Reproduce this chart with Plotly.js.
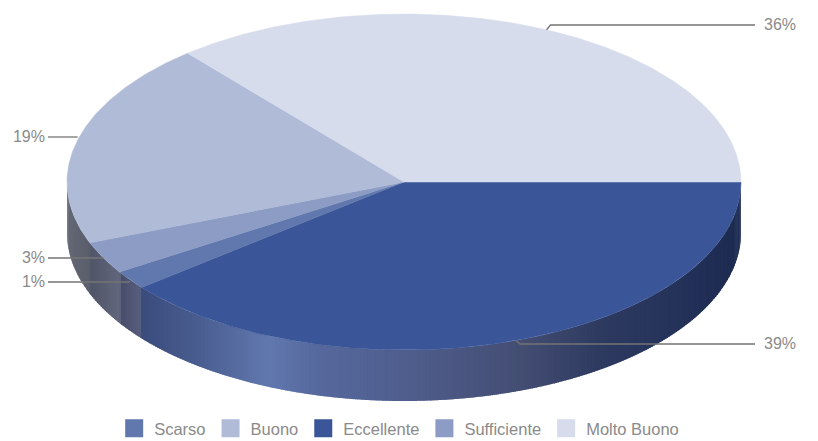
<!DOCTYPE html>
<html><head><meta charset="utf-8">
<script src="https://cdn.plot.ly/plotly-3.0.1.min.js"></script>
<style>html,body{margin:0;padding:0;background:#fff;overflow:hidden}#w{width:818px;height:441px;overflow:hidden}</style>
</head><body><div id="w"><div id="c"></div></div>
<script>
// Data, clockwise from the right-hand rim of the pie
const categories = ["Eccellente","Scarso","Sufficiente","Buono","Molto Buono"];
const shares = [39.2,1.8,3.1,19.8,36.1];
const labels = ["39%","1%","3%","19%","36%"];
const topColors = ["#3a5698","#6078ad","#8c9cc5","#afbbd7","#d7dcec"];
const legendOrder = ["Scarso","Buono","Eccellente","Sufficiente","Molto Buono"];
const labelRows = [344,282,258,137,25];

// Pie geometry in page pixels
const CX=404, CY=182, RX=337, RY=168, DEPTH=51;
const rad=d=>d*Math.PI/180;
const px=a=>CX+RX*Math.cos(rad(a)), py=a=>CY+RY*Math.sin(rad(a));
const total=shares.reduce((a,b)=>a+b,0);
let cur=0; const slices=categories.map((n,i)=>{const s=cur;cur+=shares[i]/total*360;return{name:n,start:s,end:cur,color:topColors[i],label:labels[i],row:labelRows[i]};});

// side-wall shading stops: [x position, colour]
const wallStops=[[67,[100,103,116]],[90,[90,94,108]],[91,[80,85,104]],[120,[98,103,126]],[121,[72,78,106]],[141,[88,94,126]],[142,[58,76,124]],[200,[74,94,144]],[268,[97,120,175]],[320,[86,104,156]],[420,[78,92,138]],[520,[68,78,115]],[600,[46,58,96]],[680,[36,50,90]],[741,[28,42,80]]];
function wallColor(x){
  for(let i=1;i<wallStops.length;i++){ if(x<=wallStops[i][0]){
    const [x0,c0]=wallStops[i-1],[x1,c1]=wallStops[i],t=(x-x0)/(x1-x0);
    return `rgb(${c0.map((v,k)=>Math.round(v+(c1[k]-v)*t)).join(",")})`; } }
  return `rgb(${wallStops[wallStops.length-1][1].join(",")})`;
}
const traces=[];
// wall: narrow overlapping strips, right to left
for(let a=0;a<180;){
  let next=a+1; while(Math.abs(px(next)-px(a))>2 && next-a>0.05) next=a+(next-a)*0.7;
  next=Math.min(next,180);
  const over=Math.min(next+(next-a)*0.6,180);
  const xs=[px(a),px(over),px(over),px(a),px(a)], ys=[py(a),py(over),py(over)+DEPTH,py(a)+DEPTH,py(a)];
  const c=wallColor((px(a)+px(next))/2);
  traces.push({type:"scatter",mode:"lines",x:xs,y:ys,fill:"toself",fillcolor:c,line:{width:0},hoverinfo:"skip",showlegend:false});
  a=next;
}
// tops
slices.forEach(s=>{
  const xs=[CX],ys=[CY];
  for(let a=s.start;a<s.end;a+=0.5){xs.push(px(a));ys.push(py(a));}
  xs.push(px(s.end),CX);ys.push(py(s.end),CY);
  traces.push({type:"scatter",mode:"lines",x:xs,y:ys,fill:"toself",fillcolor:s.color,line:{color:s.color,width:0.5},name:s.name,hoverinfo:"name",showlegend:false});
});
// leaders and labels
slices.forEach(s=>{
  const m=(s.start+s.end)/2, ax=px(m), ay=py(m), right=Math.cos(rad(m))>0;
  const lx=right?[ax,ax+4,755]:[ax,48], ly=right?[ay,s.row,s.row]:[s.row,s.row];
  traces.push({type:"scatter",mode:"lines",x:lx,y:ly,line:{color:"#747474",width:1.3},hoverinfo:"skip",showlegend:false});
  traces.push({type:"scatter",mode:"text",x:[right?764:45],y:[s.row+1],text:[s.label],textposition:right?"middle right":"middle left",textfont:{family:"Liberation Sans, Arial, sans-serif",size:16,color:"#8a8a8a"},hoverinfo:"skip",showlegend:false});
});
// legend entries
legendOrder.forEach((n,i)=>{
  const s=slices.find(q=>q.name===n);
  traces.push({type:"scatter",mode:"markers",x:[null],y:[null],name:n,legendrank:i+1,marker:{symbol:"square",size:16,color:s.color,line:{color:s.color,width:2}},hoverinfo:"skip"});
});
Plotly.newPlot("c",traces,{
  width:818,height:446,margin:{l:0,r:0,t:0,b:0},paper_bgcolor:"#fff",plot_bgcolor:"#fff",
  xaxis:{range:[0,818],visible:false,fixedrange:true},
  yaxis:{range:[446,0],visible:false,fixedrange:true},
  showlegend:true,
  legend:{orientation:"h",x:0.488,xanchor:"center",y:0,yanchor:"bottom",font:{family:"Liberation Sans, Arial, sans-serif",size:16.5,color:"#8a8a8a"},itemclick:false,itemdoubleclick:false,bgcolor:"rgba(0,0,0,0)"},
},{displayModeBar:false,staticPlot:true});
</script></body></html>
